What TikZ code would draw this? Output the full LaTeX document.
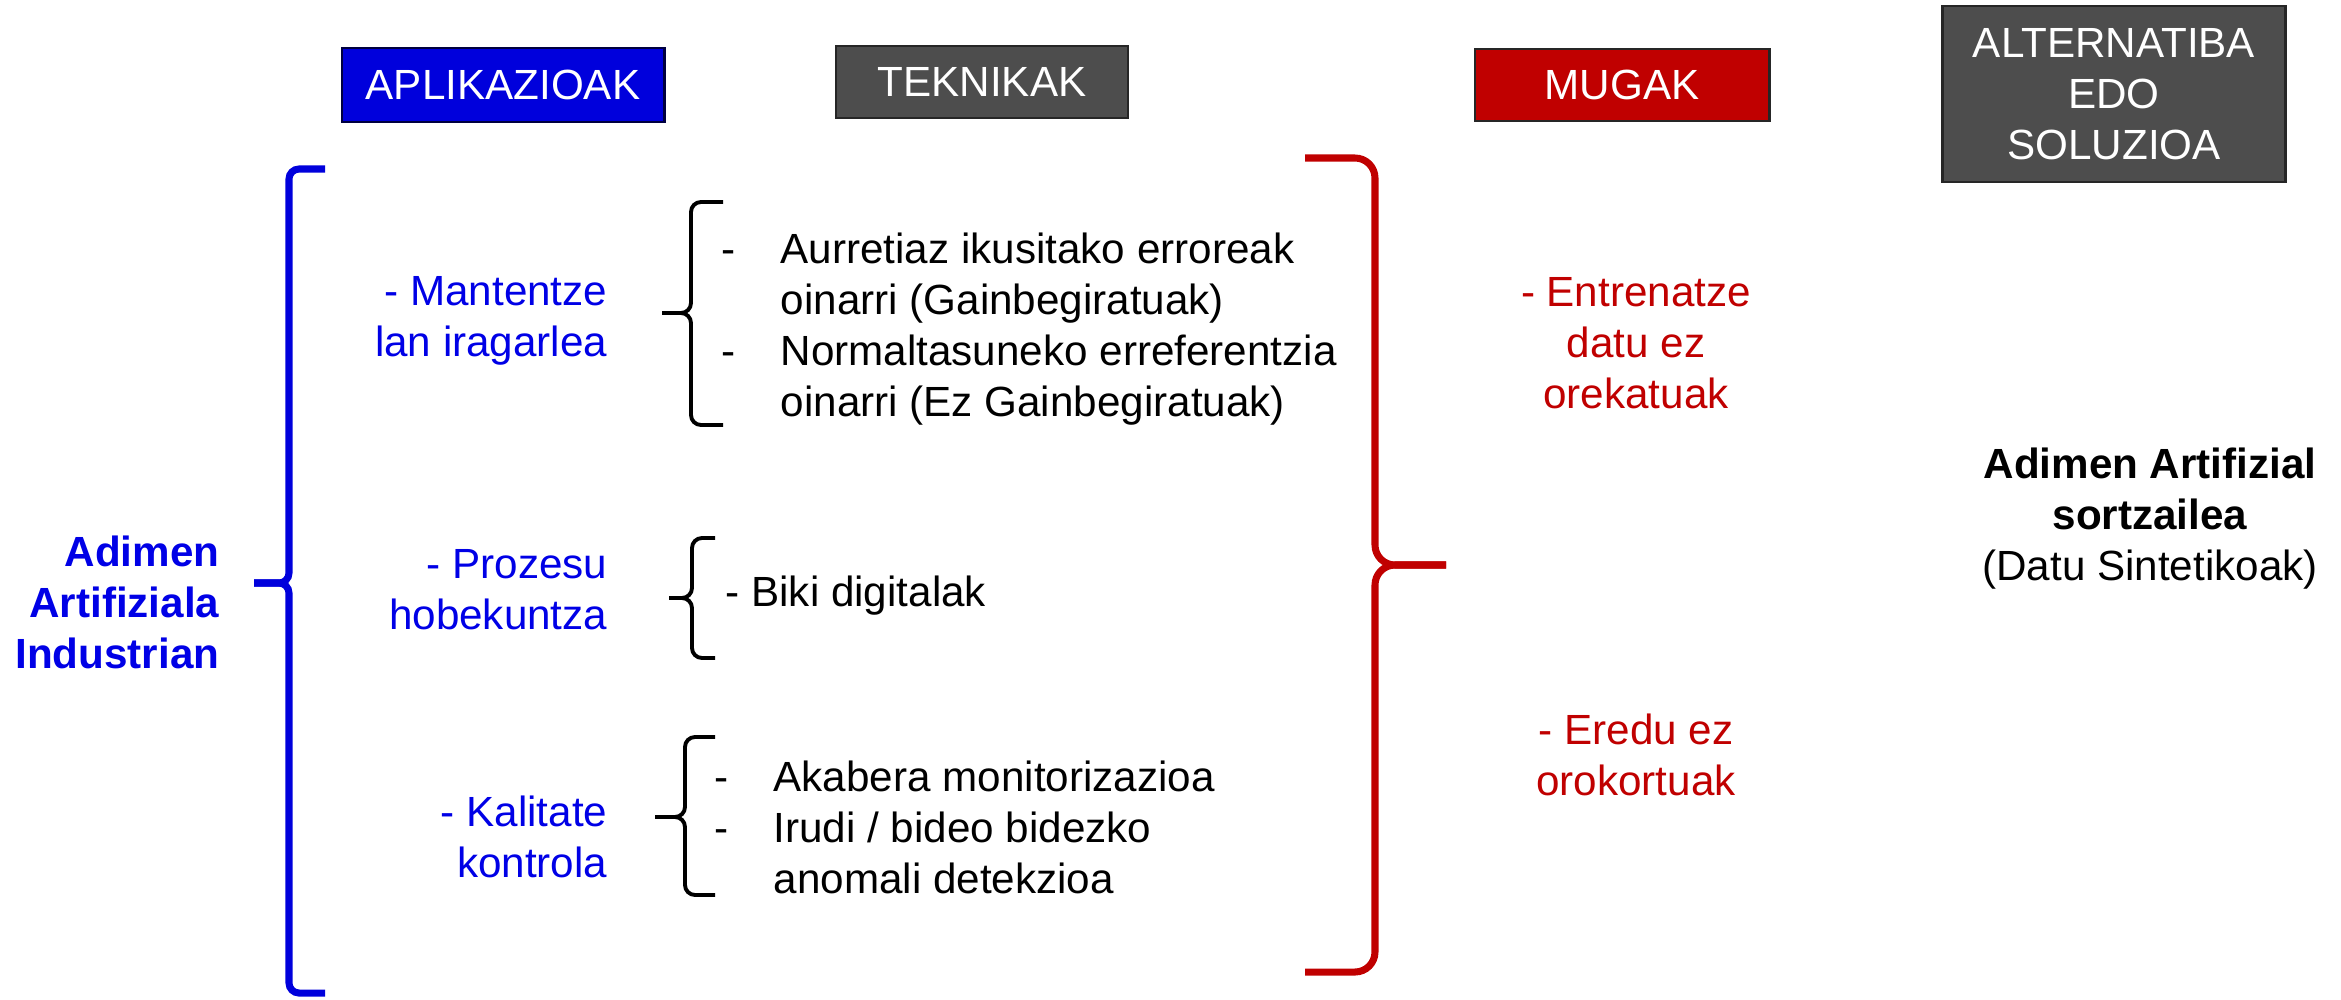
\documentclass[tikz,border=0pt]{standalone}
\usepackage{fontspec}
\setmainfont{Liberation Sans}
\usepackage{tikz}
\definecolor{apblue}{RGB}{0,0,220}
\definecolor{txblue}{RGB}{0,0,230}
\definecolor{mgred}{RGB}{192,0,0}
\definecolor{tkgray}{RGB}{77,77,77}
\newcommand{\ftsz}{\fontsize{12pt}{14.5pt}\selectfont}
\newcommand{\dsh}{\makebox[5.9mm][l]{-}}
\newcommand{\dshgap}{\hspace*{5.9mm}}
\tikzstyle{hdr}=[draw=black!85, line width=0.8pt, text=white, inner sep=0pt, align=center]
\tikzstyle{bl}=[text=txblue, align=right, anchor=east, inner sep=0pt]
\tikzstyle{rd}=[text=mgred, align=center, inner sep=0pt]
\tikzstyle{tk}=[align=left, anchor=west, inner sep=0pt]
\tikzstyle{bbrace}=[draw=apblue, line width=2pt, rounded corners=0.1cm]
\tikzstyle{rbrace}=[draw=mgred, line width=2pt, rounded corners=0.2cm]
\tikzstyle{kbrace}=[draw=black, line width=1.1pt, rounded corners=0.1cm]

\begin{document}
\begin{tikzpicture}
[x=0.01cm, y=-0.01cm, every node/.style={font=\ftsz}]
 \useasboundingbox (0,0) rectangle (2341,999);
 % column heads
 \node[hdr, fill=apblue, draw=black!75!blue, minimum width=3.22cm, minimum height=0.74cm] (apl) at (503,85) {APLIKAZIOAK};
 \node[hdr, fill=tkgray, minimum width=2.92cm, minimum height=0.72cm] (tek) at (982,82) {TEKNIKAK};
 \node[hdr, fill=mgred, minimum width=2.94cm, minimum height=0.72cm] (mug) at (1622,85) {MUGAK};
 \node[hdr, fill=tkgray, minimum width=3.43cm, minimum height=1.76cm, font=\fontsize{12pt}{14.5pt}\selectfont] (alt) at (2114,94) {ALTERNATIBA\\EDO\\SOLUZIOA};
 % left
 \node[bl, font=\ftsz\bfseries] (aai) at (220,602) {Adimen\\Artifiziala\\Industrian};
 \draw[bbrace] (325,169) -- (289,169) -- (289,583) -- (254,583);
 \draw[bbrace] (325,993) -- (289,993) -- (289,583) -- (254,583);
 % applications
 \node[bl] (man) at (608,321) {- Mantentze\\lan iragarlea};
 \node[bl] (pro) at (608,590) {- Prozesu\\hobekuntza};
 \node[bl] (kal) at (608,837) {- Kalitate\\kontrola};
 % techniques
 \draw[kbrace] (723,202) -- (691,202) -- (691,313) -- (662,313);
 \draw[kbrace] (723,425) -- (691,425) -- (691,313) -- (662,313);
 \node[tk] (tman) at (721,329) {\dsh Aurretiaz ikusitako erroreak\\\dshgap oinarri (Gainbegiratuak)\\\dsh Normaltasuneko erreferentzia\\\dshgap oinarri (Ez Gainbegiratuak)};
 \draw[kbrace] (715,538) -- (692,538) -- (692,598) -- (669,598);
 \draw[kbrace] (715,658) -- (692,658) -- (692,598) -- (669,598);
 \node[tk] (tpro) at (725,596) {- Biki digitalak};
 \draw[kbrace] (715,737) -- (685,737) -- (685,817) -- (655,817);
 \draw[kbrace] (715,895) -- (685,895) -- (685,817) -- (655,817);
 \node[tk] (tkal) at (714,827) {\dsh Akabera monitorizazioa\\\dsh Irudi / bideo bidezko\\\dshgap anomali detekzioa};
 % limits
 \draw[rbrace] (1305,158) -- (1375,158) -- (1375,565) -- (1446,565);
 \draw[rbrace] (1305,972) -- (1375,972) -- (1375,565) -- (1446,565);
 \node[rd] (ent) at (1636,343) {- Entrenatze\\datu ez\\orekatuak};
 \node[rd] (ere) at (1636,755) {- Eredu ez\\orokortuak};
 % solution
 \node[align=center, inner sep=0pt] (sor) at (2150,519) {\textbf{Adimen Artifizial}\\\textbf{sortzailea}\\(Datu Sintetikoak)};
\end{tikzpicture}
\end{document}
